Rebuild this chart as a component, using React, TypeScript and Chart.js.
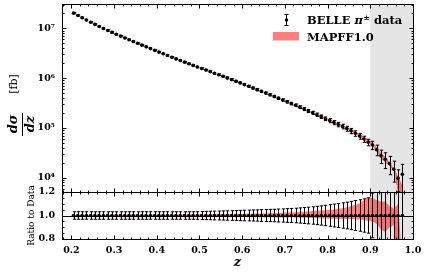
import React, { useEffect, useRef } from "react";
import { Chart, registerables } from "chart.js";

Chart.register(...registerables);

// ---------------- data ----------------
const zValues = [
  0.205, 0.215, 0.225, 0.235, 0.245, 0.255, 0.265, 0.275, 0.285, 0.295,
  0.305, 0.315, 0.325, 0.335, 0.345, 0.355, 0.365, 0.375, 0.385, 0.395,
  0.405, 0.415, 0.425, 0.435, 0.445, 0.455, 0.465, 0.475, 0.485, 0.495,
  0.505, 0.515, 0.525, 0.535, 0.545, 0.555, 0.565, 0.575, 0.585, 0.595,
  0.605, 0.615, 0.625, 0.635, 0.645, 0.655, 0.665, 0.675, 0.685, 0.695,
  0.705, 0.715, 0.725, 0.735, 0.745, 0.755, 0.765, 0.775, 0.785, 0.795,
  0.805, 0.815, 0.825, 0.835, 0.845, 0.855, 0.865, 0.875, 0.885, 0.895,
  0.905, 0.915, 0.925, 0.935, 0.945, 0.955, 0.965, 0.975,
];

// BELLE pi± d(sigma)/dz [fb]
const dSigmaDz = [
  2.018e7, 1.811e7, 1.629e7, 1.469e7, 1.327e7, 1.202e7, 1.091e7, 9.93e6, 9.06e6, 8.28e6,
  7.59e6, 6.97e6, 6.4e6, 5.89e6, 5.42e6, 4.99e6, 4.59e6, 4.24e6, 3.91e6, 3.61e6,
  3.33e6, 3.08e6, 2.84e6, 2.63e6, 2.43e6, 2.25e6, 2.09e6, 1.94e6, 1.8e6, 1.67e6,
  1.56e6, 1.45e6, 1.35e6, 1.25e6, 1.17e6, 1.09e6, 1.01e6, 9.33e5, 8.65e5, 8.02e5,
  7.41e5, 6.86e5, 6.34e5, 5.86e5, 5.42e5, 5.01e5, 4.63e5, 4.28e5, 3.94e5, 3.64e5,
  3.35e5, 3.08e5, 2.84e5, 2.61e5, 2.39e5, 2.19e5, 2.01e5, 1.84e5, 1.68e5, 1.53e5,
  1.4e5, 1.28e5, 1.17e5, 1.07e5, 9.66e4, 8.71e4, 7.76e4, 6.84e4, 5.96e4, 5.13e4,
  4.52e4, 3.63e4, 2.75e4, 2.34e4, 1.91e4, 1.48e4, 9.77e3, 1.17e4,
];

// relative total uncertainty of the data
const dataRelErr = [
  0.032, 0.032, 0.032, 0.032, 0.032, 0.032, 0.032, 0.032, 0.032, 0.032,
  0.032, 0.032, 0.032, 0.032, 0.032, 0.032, 0.032, 0.032, 0.032, 0.032,
  0.032, 0.032, 0.032, 0.032, 0.032, 0.032, 0.032, 0.032, 0.032, 0.032,
  0.034, 0.035, 0.036, 0.037, 0.038, 0.039, 0.04, 0.041, 0.042, 0.044,
  0.045, 0.046, 0.047, 0.048, 0.05, 0.051, 0.052, 0.053, 0.055, 0.056,
  0.058, 0.06, 0.062, 0.065, 0.068, 0.071, 0.074, 0.078, 0.082, 0.087,
  0.092, 0.097, 0.102, 0.108, 0.114, 0.12, 0.127, 0.134, 0.142, 0.15,
  0.19, 0.24, 0.3, 0.35, 0.4, 0.45, 0.47, 0.58,
];

// MAPFF1.0 / data : centre and half width of the band
const theoryRatioCenter = [
  1, 1, 1, 1, 1, 1, 1, 1, 1, 1,
  1, 1, 1, 1, 1, 1, 1, 1, 1, 1,
  1, 1, 1, 1, 1, 1, 1, 1, 1, 1,
  1, 1, 1, 1, 1, 1, 1, 1, 1, 1,
  1, 1, 1, 1.001, 1.001, 1.002, 1.002, 1.003, 1.003, 1.004,
  1.004, 1.005, 1.005, 1.006, 1.006, 1.007, 1.008, 1.008, 1.009, 1.01,
  1.01, 1.012, 1.014, 1.016, 1.02, 1.025, 1.03, 1.035, 1.045, 1.055,
  1.05, 1.03, 1.0, 0.99, 0.99, 0.99, 0.8, 0.48,
];
const theoryRatioHalfWidth = [
  0.005, 0.005, 0.005, 0.005, 0.005, 0.005, 0.005, 0.005, 0.005, 0.005,
  0.006, 0.006, 0.006, 0.006, 0.006, 0.006, 0.006, 0.006, 0.006, 0.006,
  0.007, 0.007, 0.007, 0.007, 0.007, 0.007, 0.007, 0.007, 0.007, 0.007,
  0.008, 0.008, 0.009, 0.009, 0.01, 0.01, 0.011, 0.011, 0.012, 0.012,
  0.013, 0.013, 0.014, 0.015, 0.015, 0.016, 0.017, 0.018, 0.019, 0.02,
  0.021, 0.022, 0.023, 0.025, 0.026, 0.028, 0.03, 0.032, 0.034, 0.036,
  0.038, 0.04, 0.043, 0.046, 0.05, 0.055, 0.062, 0.07, 0.085, 0.1,
  0.1, 0.1, 0.12, 0.13, 0.09, 0.07, 0.3, 0.12,
];

const xTickValues = [0.2, 0.3, 0.4, 0.5, 0.6, 0.7, 0.8, 0.9, 1.0];
const xTickLabels = ["0.2", "0.3", "0.4", "0.5", "0.6", "0.7", "0.8", "0.9", "1.0"];
const yTickValues = [1e4, 1e5, 1e6, 1e7];
const yTickLabels = ["10⁴", "10⁵", "10⁶", "10⁷"];
const ratioTickValues = [0.8, 1.0, 1.2];
const ratioTickLabels = ["0.8", "1.0", "1.2"];
const legendDataLabel = ["BELLE ", "π", "±", " data"];
const legendTheoryLabel = "MAPFF1.0";
const ratioAxisTitle = "Ratio to Data";
const xAxisTitle = "z";

const X_MIN = 0.178;
const X_MAX = 1.0;
const Y_MIN = 5150;
const Y_MAX = 3.08e7;
const R_MIN = 0.8;
const R_MAX = 1.2;
const CUT_Z = 0.9;

// ---------------- styles ----------------
const SERIF = '"DejaVu Serif", serif';
const BAND = "rgba(255, 0, 0, 0.5)";
const SHADE = "#e5e5e5";
const TICK_FONT = { family: '"DejaVu Serif"', size: 9.5, weight: "bold" as const };

const bandLow = dSigmaDz.map((v, i) => v * (theoryRatioCenter[i] - theoryRatioHalfWidth[i]));
const bandHigh = dSigmaDz.map((v, i) => v * (theoryRatioCenter[i] + theoryRatioHalfWidth[i]));
const ratioLow = theoryRatioCenter.map((c, i) => c - theoryRatioHalfWidth[i]);
const ratioHigh = theoryRatioCenter.map((c, i) => c + theoryRatioHalfWidth[i]);
const dataLow = dSigmaDz.map((v, i) => v * (1 - dataRelErr[i]));
const dataHigh = dSigmaDz.map((v, i) => v * (1 + dataRelErr[i]));
const ratioDataLow = dataRelErr.map((e) => 1 - e);
const ratioDataHigh = dataRelErr.map((e) => 1 + e);
const ratioOne = zValues.map(() => 1);

const pts = (ys: number[]) => zValues.map((z, i) => ({ x: z, y: ys[i] }));

// ---------------- drawing helpers ----------------
function shade(chart: any) {
  const { ctx, chartArea: a, scales } = chart;
  const x0 = scales.x.getPixelForValue(CUT_Z);
  const x1 = scales.x.getPixelForValue(X_MAX);
  ctx.save();
  ctx.fillStyle = SHADE;
  ctx.fillRect(x0, a.top, x1 - x0, a.bottom - a.top);
  ctx.restore();
}

function errorBars(chart: any, lows: number[], highs: number[]) {
  const { ctx, chartArea: a, scales } = chart;
  const xs = scales.x;
  const ys = scales.y;
  ctx.save();
  ctx.beginPath();
  ctx.rect(a.left, a.top, a.right - a.left, a.bottom - a.top);
  ctx.clip();
  ctx.strokeStyle = "#000";
  ctx.lineWidth = 1;
  for (let i = 0; i < zValues.length; i++) {
    const px = Math.round(xs.getPixelForValue(zValues[i])) + 0.5;
    const yh = ys.getPixelForValue(highs[i]);
    const yl = ys.getPixelForValue(lows[i]);
    ctx.beginPath();
    ctx.moveTo(px, yh);
    ctx.lineTo(px, yl);
    ctx.moveTo(px - 1.7, yh);
    ctx.lineTo(px + 1.7, yh);
    ctx.moveTo(px - 1.7, yl);
    ctx.lineTo(px + 1.7, yl);
    ctx.stroke();
  }
  ctx.restore();
}

function frameAndTicks(chart: any, yMajors: number[], yMinors: number[]) {
  const { ctx, chartArea: a, scales } = chart;
  const xs = scales.x;
  const ys = scales.y;
  const L = Math.round(a.left) + 0.5;
  const R = Math.round(a.right) + 0.5;
  const T = Math.round(a.top) + 0.5;
  const B = Math.round(a.bottom) + 0.5;
  ctx.save();
  ctx.strokeStyle = "#000";
  ctx.lineWidth = 1;
  ctx.strokeRect(L, T, R - L, B - T);
  const xMinors: number[] = [];
  for (let k = 9; k <= 50; k++) xMinors.push(k * 0.02);
  ctx.beginPath();
  const xt = (v: number, len: number) => {
    const p = Math.round(xs.getPixelForValue(v)) + 0.5;
    if (p < L - 0.1 || p > R + 0.1) return;
    ctx.moveTo(p, T);
    ctx.lineTo(p, T + len);
    ctx.moveTo(p, B);
    ctx.lineTo(p, B - len);
  };
  xMinors.forEach((v) => xt(v, 2));
  xTickValues.forEach((v) => xt(v, 4));
  const yt = (v: number, len: number) => {
    const p = Math.round(ys.getPixelForValue(v)) + 0.5;
    if (p < T - 0.1 || p > B + 0.1) return;
    ctx.moveTo(L, p);
    ctx.lineTo(L + len, p);
    ctx.moveTo(R, p);
    ctx.lineTo(R - len, p);
  };
  yMinors.forEach((v) => yt(v, 2));
  yMajors.forEach((v) => yt(v, 4));
  ctx.stroke();
  ctx.restore();
}

function rotatedText(ctx: any, text: string, x: number, y: number, font: string) {
  ctx.save();
  ctx.translate(x, y);
  ctx.rotate(-Math.PI / 2);
  ctx.font = font;
  ctx.fillStyle = "#000";
  ctx.textAlign = "center";
  ctx.textBaseline = "middle";
  ctx.fillText(text, 0, 0);
  ctx.restore();
}

const noScalePadding = (s: any) => {
  s.paddingTop = 0;
  s.paddingBottom = 0;
  s.paddingLeft = 0;
  s.paddingRight = 0;
};

const topPlugin = {
  id: "topDecor",
  beforeDatasetsDraw(chart: any) {
    shade(chart);
  },
  afterDatasetsDraw(chart: any) {
    errorBars(chart, dataLow, dataHigh);
  },
  afterDraw(chart: any) {
    const logMinors: number[] = [];
    for (let d = 3; d <= 7; d++) for (let m = 2; m <= 9; m++) logMinors.push(m * Math.pow(10, d));
    frameAndTicks(chart, yTickValues, logMinors);
    const { ctx } = chart;
    // legend
    ctx.save();
    ctx.strokeStyle = "#000";
    ctx.lineWidth = 1;
    ctx.beginPath();
    ctx.moveTo(286.5, 14);
    ctx.lineTo(286.5, 26);
    ctx.moveTo(284.5, 14.5);
    ctx.lineTo(288.5, 14.5);
    ctx.moveTo(284.5, 25.5);
    ctx.lineTo(288.5, 25.5);
    ctx.stroke();
    ctx.fillStyle = "#000";
    ctx.beginPath();
    ctx.arc(286.5, 20, 1.7, 0, Math.PI * 2);
    ctx.fill();
    ctx.textBaseline = "alphabetic";
    ctx.textAlign = "left";
    let x = 307;
    ctx.font = `bold 11.5px ${SERIF}`;
    ctx.fillText(legendDataLabel[0], x, 24);
    x += ctx.measureText(legendDataLabel[0]).width;
    ctx.font = `italic bold 11.5px ${SERIF}`;
    ctx.fillText(legendDataLabel[1], x, 24);
    x += ctx.measureText(legendDataLabel[1]).width;
    ctx.font = `bold 8px ${SERIF}`;
    ctx.fillText(legendDataLabel[2], x + 0.5, 19.5);
    x += ctx.measureText(legendDataLabel[2]).width + 0.5;
    ctx.font = `bold 11.5px ${SERIF}`;
    ctx.fillText(legendDataLabel[3], x, 24);
    ctx.fillStyle = BAND;
    ctx.fillRect(273, 32, 26, 8.5);
    ctx.fillStyle = "#000";
    ctx.fillText(legendTheoryLabel, 307, 40.5);
    ctx.restore();
    // y title: d sigma / dz [fb]
    rotatedText(ctx, "dσ", 14, 124, `italic bold 13px ${SERIF}`);
    rotatedText(ctx, "dz", 31, 124, `italic bold 13px ${SERIF}`);
    ctx.save();
    ctx.fillStyle = "#000";
    ctx.fillRect(22, 113, 1, 23);
    ctx.restore();
    rotatedText(ctx, "[fb]", 14, 84, `11px ${SERIF}`);
  },
};

const ratioPlugin = {
  id: "ratioDecor",
  beforeDatasetsDraw(chart: any) {
    shade(chart);
  },
  afterDatasetsDraw(chart: any) {
    const { ctx, chartArea: a, scales } = chart;
    const p = Math.round(scales.y.getPixelForValue(1)) + 0.5;
    ctx.save();
    ctx.strokeStyle = "#000";
    ctx.lineWidth = 1;
    ctx.beginPath();
    ctx.moveTo(a.left, p);
    ctx.lineTo(a.right, p);
    ctx.stroke();
    ctx.restore();
    errorBars(chart, ratioDataLow, ratioDataHigh);
  },
  afterDraw(chart: any) {
    const minors: number[] = [];
    for (let k = 16; k <= 24; k++) minors.push(k * 0.05);
    frameAndTicks(chart, ratioTickValues, minors);
    const { ctx } = chart;
    rotatedText(ctx, ratioAxisTitle, 31.7, 31.5, `9px ${SERIF}`);
    ctx.save();
    ctx.font = `italic bold 13px ${SERIF}`;
    ctx.fillStyle = "#000";
    ctx.textAlign = "center";
    ctx.textBaseline = "middle";
    ctx.fillText(xAxisTitle, 237.5, 79);
    ctx.restore();
  },
};

function bandDatasets(lo: number[], hi: number[], pointsY: number[]) {
  return [
    {
      data: pts(hi),
      borderWidth: 0,
      pointRadius: 0,
      fill: false,
      order: 1,
      tension: 0,
    },
    {
      data: pts(lo),
      borderWidth: 0,
      pointRadius: 0,
      fill: "-1",
      backgroundColor: BAND,
      order: 1,
      tension: 0,
    },
    {
      data: pts(pointsY),
      showLine: false,
      pointRadius: 1.8,
      pointBackgroundColor: "#000",
      pointBorderWidth: 0,
      order: 0,
    },
  ];
}

export default function App() {
  const topRef = useRef<HTMLCanvasElement | null>(null);
  const botRef = useRef<HTMLCanvasElement | null>(null);

  useEffect(() => {
    if (!topRef.current || !botRef.current) return;
    const top = new Chart(topRef.current, {
      type: "line",
      data: { datasets: bandDatasets(bandLow, bandHigh, dSigmaDz) as any },
      options: {
        animation: false,
        responsive: false,
        devicePixelRatio: 1,
        layout: { padding: { left: 0, right: 14, top: 4, bottom: 8 } },
        plugins: { legend: { display: false }, tooltip: { enabled: false } },
        scales: {
          x: { type: "linear", min: X_MIN, max: X_MAX, display: false },
          y: {
            type: "logarithmic",
            min: Y_MIN,
            max: Y_MAX,
            grid: { display: false, drawTicks: false },
            border: { display: false },
            afterBuildTicks: (s: any) => {
              s.ticks = yTickValues.map((v) => ({ value: v }));
            },
            afterFit: (s: any) => {
              s.width = 62;
              noScalePadding(s);
            },
            ticks: {
              padding: 7,
              color: "#000",
              font: TICK_FONT,
              callback: (_v: any, i: number) => yTickLabels[i],
            },
          },
        },
      },
      plugins: [topPlugin],
    });
    const bot = new Chart(botRef.current, {
      type: "line",
      data: { datasets: bandDatasets(ratioLow, ratioHigh, ratioOne) as any },
      options: {
        animation: false,
        responsive: false,
        devicePixelRatio: 1,
        layout: { padding: { left: 0, right: 14, top: 8, bottom: 0 } },
        plugins: { legend: { display: false }, tooltip: { enabled: false } },
        scales: {
          x: {
            type: "linear",
            min: X_MIN,
            max: X_MAX,
            grid: { display: false, drawTicks: false },
            border: { display: false },
            afterBuildTicks: (s: any) => {
              s.ticks = xTickValues.map((v) => ({ value: v }));
            },
            afterFit: (s: any) => {
              s.height = 37;
              noScalePadding(s);
            },
            ticks: {
              padding: 6,
              autoSkip: false,
              maxRotation: 0,
              color: "#000",
              font: TICK_FONT,
              callback: (_v: any, i: number) => xTickLabels[i],
            },
          },
          y: {
            type: "linear",
            min: R_MIN,
            max: R_MAX,
            grid: { display: false, drawTicks: false },
            border: { display: false },
            afterBuildTicks: (s: any) => {
              s.ticks = ratioTickValues.map((v) => ({ value: v }));
            },
            afterFit: (s: any) => {
              s.width = 62;
              noScalePadding(s);
            },
            ticks: {
              padding: 7,
              color: "#000",
              font: TICK_FONT,
              callback: (_v: any, i: number) => ratioTickLabels[i],
            },
          },
        },
      },
      plugins: [ratioPlugin],
    });
    return () => {
      top.destroy();
      bot.destroy();
    };
  }, []);

  return (
    <div style={{ position: "fixed", left: 0, top: 0, width: 427, height: 276, background: "#fff" }}>
      <canvas ref={topRef} width={427} height={200} style={{ position: "absolute", left: 0, top: 0, width: 427, height: 200 }} />
      <canvas ref={botRef} width={427} height={92} style={{ position: "absolute", left: 0, top: 184, width: 427, height: 92 }} />
    </div>
  );
}
